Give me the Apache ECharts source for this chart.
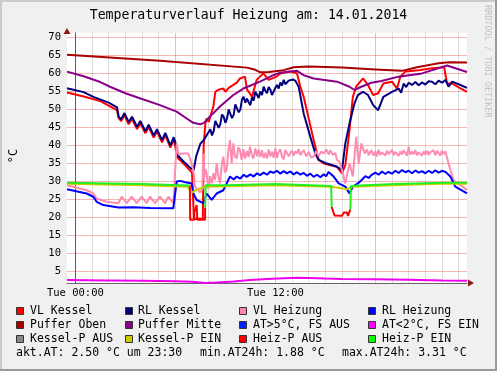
<!DOCTYPE html>
<html>
<head>
<meta charset="utf-8">
<script src="https://cdn.jsdelivr.net/npm/echarts@6/dist/echarts.min.js"></script>
<style>
html,body{margin:0;padding:0;background:#F0F0F0;}
#c{width:497px;height:371px;}
</style>
</head>
<body>
<div id="c"></div>
<script>
// ---- data (x = hours relative to Tue 00:00, y = °C) ----
const titleText = 'Temperaturverlauf Heizung am: 14.01.2014';
const yTickValues = [5,10,15,20,25,30,35,40,45,50,55,60,65,70];
const xLabelHours = [0, 12];
const hourGrid = [0,1,2,3,4,5,6,7,8,9,10,11,12,13,14,15,16,17,18,19,20,21,22,23];

const vlKessel = [[-0.5,54.7],[0.5,53.6],[1.5,52.3],[2.5,49.8],[2.6,47.6],[2.75,46.8],[2.95,48.4],[3.2,45.9],[3.4,47.4],[3.7,44.6],[3.9,46.2],[4.2,43.4],[4.4,45.1],[4.7,42.2],[4.9,43.9],[5.2,40.9],[5.4,42.9],[5.7,39.4],[5.9,41.7],[6.0,39.8],[6.1,36.8],[6.5,34.9],[6.8,33.5],[7.0,32.5],[7.12,19.6],[7.65,19.6],[7.7,40],[7.8,46],[7.88,47.5],[8.0,46.5],[8.28,50.8],[8.4,54.9],[8.6,55.5],[8.88,55.8],[9.0,54.9],[9.2,56.0],[9.48,56.8],[9.7,57.5],[9.88,58.6],[10.18,59.1],[10.3,55.5],[10.4,54.9],[10.6,53.5],[10.88,58.2],[11.28,60.0],[11.6,58.2],[12.08,59.1],[12.29,60.0],[12.9,60.5],[13.3,60.0],[13.5,56.3],[13.7,53.5],[14.3,41.5],[14.6,36.0],[14.9,35.0],[15.7,34.1],[16.0,32.3],[16.2,34.6],[16.45,44.3],[16.65,53.5],[16.85,56.3],[17.26,58.6],[17.56,56.8],[17.87,54.0],[18.17,54.5],[18.48,57.2],[19.0,57.7],[19.3,55.8],[19.5,59.1],[19.8,60.5],[20.6,60.9],[21.4,61.4],[22.13,61.7],[22.3,57.2],[22.6,57.2],[23.0,56.1],[23.5,54.9]];

const rlKessel = [[-0.5,55.9],[0.5,54.8],[1.08,53.5],[2.0,51.9],[2.5,50.6],[2.6,48.0],[2.75,47.3],[2.95,49.0],[3.2,46.5],[3.4,48.0],[3.7,45.2],[3.9,46.8],[4.2,44.0],[4.4,45.8],[4.7,42.8],[4.9,44.5],[5.2,41.5],[5.4,43.5],[5.7,40.0],[5.9,42.3],[6.0,41.0],[6.1,37.5],[6.5,35.5],[6.9,33.8],[7.1,33.2],[7.25,37],[7.5,40.5],[7.7,41.5],[7.9,43.0],[8.1,44.5],[8.2,42.8],[8.3,44.0],[8.4,46.8],[8.5,46.5],[8.6,44.9],[8.7,46.0],[8.8,48.6],[8.9,48.0],[9.0,46.3],[9.1,47.5],[9.2,50.0],[9.3,49.5],[9.4,47.6],[9.5,48.5],[9.6,51.4],[9.7,51],[9.8,49.2],[9.9,50],[10.0,52.8],[10.1,53.5],[10.2,51.9],[10.3,53],[10.4,52.0],[10.5,51.2],[10.6,53.3],[10.7,52.5],[10.8,54.9],[10.9,54.5],[11.0,53.2],[11.1,55.0],[11.2,54.0],[11.3,56.3],[11.4,55.2],[11.5,54.5],[11.6,56.2],[11.7,55.5],[11.8,54.0],[11.9,54.5],[12.0,56.0],[12.1,56.8],[12.2,55.8],[12.3,57.5],[12.4,56.6],[12.5,58.2],[12.6,57.0],[12.7,56.5],[12.8,58.0],[12.9,57.5],[13.05,58.3],[13.2,58.0],[13.4,56.3],[13.7,48.9],[14.1,42.4],[14.4,37.8],[14.6,36.0],[15.1,35.0],[15.7,34.1],[16.0,33.2],[16.2,40.6],[16.45,46.1],[16.75,51.7],[16.95,54.0],[17.26,54.9],[17.56,54.0],[17.87,51.2],[18.17,49.8],[18.48,53.5],[19.0,54.9],[19.4,55.8],[19.55,54.6],[19.7,57.2],[19.85,56.2],[20.0,57.4],[20.2,56.8],[20.4,57.6],[20.6,56.7],[20.8,57.5],[21.0,56.9],[21.2,57.8],[21.4,57.7],[21.6,57.0],[21.8,58.0],[22.0,57.4],[22.2,58.2],[22.4,56.3],[22.6,57.7],[23.0,57.0],[23.5,56.0]];

const vlHeizung = [[-0.5,29.0],[0.68,27.6],[1.08,26.7],[1.28,25.3],[1.88,24.4],[2.58,24.0],[2.78,25.8],[3.08,24.0],[3.38,25.8],[3.68,24.0],[3.98,25.8],[4.28,24.0],[4.48,25.8],[4.78,24.0],[5.08,25.8],[5.38,24.0],[5.58,25.8],[5.88,24.0],[6.0,24.2],[6.08,40.6],[6.2,37.5],[6.38,37.8],[6.78,37.8],[6.88,36.4],[7.08,33.2],[7.18,28.6],[7.48,27.0],[7.62,28],[7.68,37.8],[7.72,30.5],[7.8,33.5],[7.88,32.3],[7.98,28.0],[8.08,31.5],[8.18,29.5],[8.28,32.3],[8.38,30.5],[8.48,35.0],[8.58,31.5],[8.68,29.5],[8.78,34.5],[8.88,36.9],[8.98,32.5],[9.08,33.2],[9.18,38.5],[9.28,41.5],[9.38,35.0],[9.48,40.6],[9.58,37.0],[9.68,36.4],[9.78,39.5],[9.88,38.7],[9.98,36.0],[10.08,39.0],[10.18,36.4],[10.3,38.5],[10.4,36.8],[10.48,39.7],[10.58,37.5],[10.68,36.4],[10.8,39.2],[10.9,37.0],[11.0,38.9],[11.1,36.8],[11.2,38.7],[11.3,36.5],[11.4,38.0],[11.5,36.4],[11.6,38.9],[11.7,37.0],[11.8,38.3],[11.9,36.6],[12.0,39.2],[12.1,36.5],[12.2,38.2],[12.3,39.0],[12.4,36.9],[12.5,36.2],[12.6,38.8],[12.7,38.5],[12.8,37.0],[12.9,36.8],[13.0,38.6],[13.1,37.2],[13.2,38.4],[13.3,37.8],[13.4,39.0],[13.5,37.3],[13.6,38.1],[13.7,38.7],[13.85,37.0],[14.0,38.2],[14.15,36.7],[14.3,36.9],[14.45,38.4],[14.6,37.1],[14.75,38.3],[14.9,37.8],[15.05,38.9],[15.2,37.5],[15.3,38.7],[15.45,37.4],[15.6,37.9],[15.7,36.0],[15.85,35.5],[16.0,33.2],[16.2,29.5],[16.45,35.0],[16.65,31.4],[16.85,42.4],[17.0,35.0],[17.16,40.6],[17.36,37.8],[17.5,38.9],[17.6,37.3],[17.76,38.7],[17.9,37.2],[18.0,38.4],[18.1,37.0],[18.2,38.8],[18.3,37.4],[18.4,38.1],[18.5,38.5],[18.6,37.2],[18.7,38.6],[18.8,37.6],[18.9,37.4],[19.0,38.8],[19.1,37.3],[19.2,38.2],[19.3,38.6],[19.4,37.1],[19.5,38.4],[19.6,37.5],[19.7,38.7],[19.8,38.3],[19.9,37.2],[20.0,39.6],[20.1,37.4],[20.2,38.3],[20.3,37.6],[20.4,38.7],[20.5,37.3],[20.6,38.1],[20.7,38.5],[20.8,37.2],[20.9,38.4],[21.0,37.5],[21.1,38.6],[21.2,37.4],[21.3,38.2],[21.4,37.8],[21.5,38.7],[21.6,37.3],[21.7,38.5],[21.8,38.4],[21.9,37.2],[22.0,38.6],[22.1,37.6],[22.2,38.4],[22.3,38.0],[22.5,33.2],[22.7,30.4],[23.24,28.6],[23.5,27.6]];

const rlHeizung = [[-0.5,27.9],[0.68,26.7],[1.08,25.8],[1.28,24.4],[1.68,23.5],[2.58,22.8],[3.5,22.9],[4.5,22.7],[5.88,22.6],[6.0,22.8],[6.08,30.0],[6.3,30.2],[6.6,29.8],[6.98,29.5],[7.08,26.7],[7.28,24.9],[7.68,24.0],[7.88,26.7],[8.18,24.9],[8.48,26.7],[8.88,27.6],[9.28,31.4],[9.5,30.6],[9.68,31.4],[9.9,30.8],[10.1,31.9],[10.28,31.3],[10.5,32.0],[10.7,31.4],[10.9,32.3],[11.08,31.8],[11.3,32.5],[11.5,31.9],[11.7,32.8],[11.88,32.4],[12.1,33.0],[12.3,32.2],[12.5,32.9],[12.7,32.3],[12.9,32.8],[13.1,32.0],[13.3,32.6],[13.5,31.9],[13.7,32.4],[13.9,31.6],[14.1,32.2],[14.3,31.3],[14.5,31.9],[14.7,31.2],[14.9,32.0],[15.05,31.5],[15.2,32.7],[15.35,32.0],[15.5,31.4],[15.8,29.5],[16.2,28.6],[16.45,26.7],[16.65,28.6],[16.95,29.5],[17.2,30.5],[17.4,31.5],[17.6,31.0],[17.76,31.8],[18.0,32.5],[18.2,31.9],[18.4,32.8],[18.6,32.1],[18.78,32.7],[19.0,32.2],[19.2,33.0],[19.4,32.4],[19.6,33.2],[19.8,32.6],[20.0,33.0],[20.2,32.3],[20.4,33.1],[20.6,32.5],[20.8,32.9],[21.0,32.3],[21.2,33.0],[21.4,32.4],[21.6,33.1],[21.8,32.5],[22.0,33.0],[22.2,32.7],[22.5,31.4],[22.8,28.6],[23.24,27.4],[23.5,26.7]];

const pufferOben = [[-0.5,65.2],[5.08,63.5],[10.3,61.6],[10.8,61.0],[11.1,60.3],[11.6,60.4],[12.5,60.9],[13.1,61.7],[14,61.9],[16,61.6],[18,61.1],[19.6,60.7],[20.5,61.7],[21.8,62.8],[22.4,63.1],[23.5,63.0]];

const pufferMitte = [[-0.5,60.5],[0.5,59.2],[1.5,57.6],[2.08,56.3],[3,54.5],[4,52.9],[5.08,51.2],[6.08,49.4],[6.68,47.5],[7.08,46.3],[7.48,45.9],[7.7,46.2],[7.88,47.1],[8.68,50.8],[9.48,54.0],[10.08,55.8],[11.08,57.7],[11.88,59.5],[12.29,60.2],[13.3,60.7],[13.7,59.5],[14.3,58.6],[15.7,57.7],[16.45,56.3],[16.75,55.4],[17.16,56.3],[17.76,57.4],[18.37,57.9],[19.39,59.1],[20.8,60.0],[22.3,62.2],[23.5,60.4]];

const atGt5 = [];
const aussenTemp = [[-0.5,2.7],[2,2.6],[4,2.5],[6,2.35],[7,2.2],[7.8,1.9],[8.5,2.0],[9.5,2.3],[10.5,2.7],[11.5,3.0],[12.5,3.2],[13.3,3.31],[14,3.25],[15,3.1],[16,3.0],[18,2.9],[20,2.8],[22,2.6],[23.5,2.5]];

const kesselPAus = [];
const kesselPEin = [[-0.5,29.4],[4,29.0],[6.7,28.6],[6.83,28.0],[7.0,26.9],[7.15,27.4],[7.74,28.6],[12,29.0],[15.3,28.6],[15.8,28.3],[16.3,27.9],[16.6,28.6],[19,29.0],[22,29.4],[23.5,29.4]];

const heizPAus = [[6.87,28.9],[6.89,19.4],[7.13,19.4],[7.14,21.5],[7.2,21.5],[7.28,23.5],[7.32,19.4],[7.78,19.4],[7.79,22.8],[7.8,null],[15.38,23.0],[15.55,20.6],[16.0,20.5],[16.1,21.4],[16.3,21.4],[16.36,20.5],[16.47,20.5],[16.5,22.3]];
const heizPEin = [[-0.5,29.7],[2,29.5],[4.1,29.3],[6.73,28.9],[6.87,28.9],[6.9,null],[7.79,22.8],[7.82,29.0],[9,29.0],[12,29.3],[15.35,28.8],[15.38,23.0],[15.4,null],[16.5,22.3],[16.53,28.8],[17,28.9],[19.2,29.3],[22.2,29.7],[23.5,29.7]];

const legendRows = [
  [['VL Kessel','#FF0000'],['RL Kessel','#000080'],['VL Heizung','#FF88AA'],['RL Heizung','#0000FF']],
  [['Puffer Oben','#AA0000'],['Puffer Mitte','#880088'],['AT>5°C, FS AUS','#0022FF'],['AT<2°C, FS EIN','#FF00FF']],
  [['Kessel-P AUS','#888888'],['Kessel-P EIN','#CCCC00'],['Heiz-P AUS','#FF0000'],['Heiz-P EIN','#00FF00']]
];
const statTexts = ['akt.AT: 2.50 °C um 23:30', 'min.AT24h: 1.88 °C', 'max.AT24h: 3.31 °C'];

// ---- chart ----
const MONO = '"DejaVu Sans Mono", monospace';
const chart = echarts.init(document.getElementById('c'), null, {renderer: 'canvas'});

const majorCol = 'rgba(225,0,0,0.28)';
const minorCol = 'rgba(0,0,0,0.13)';
const gridLines = [];
yTickValues.forEach(v => gridLines.push({yAxis: v, lineStyle: {color: majorCol, width: 1, type: 'solid'}}));
hourGrid.forEach(h => gridLines.push({xAxis: h, lineStyle: {color: h % 6 === 0 ? majorCol : minorCol, width: 1, type: 'solid'}}));

function ln(name, data, color, extra) {
  return Object.assign({
    name: name, type: 'line', data: data, showSymbol: false, symbol: 'none',
    lineStyle: {color: color, width: 2}, itemStyle: {color: color},
    connectNulls: false, silent: true, z: 3, animation: false
  }, extra || {});
}

// legend graphics
const g = [];
const colX = [16, 125, 239, 368];
const textX = [30, 138, 253, 382];
const rowY = [311, 325, 339];
legendRows.forEach((row, r) => row.forEach((it, c) => {
  g.push({type: 'rect', shape: {x: colX[c] + 0.5, y: rowY[r] - 3.5, width: 7, height: 7},
    style: {fill: it[1], stroke: '#333', lineWidth: 1}, silent: true});
  g.push({type: 'text', x: textX[c], y: rowY[r],
    style: {text: it[0], font: '11.5px ' + MONO, fill: '#000', textVerticalAlign: 'middle', textAlign: 'left'}, silent: true});
}));
const statX = [16, 200, 342];
statTexts.forEach((t, i) => g.push({type: 'text', x: statX[i], y: 353,
  style: {text: t, font: '11.5px ' + MONO, fill: '#000', textVerticalAlign: 'middle', textAlign: 'left'}, silent: true}));
// title
g.push({type: 'text', x: 248.5, y: 16, style: {text: titleText, font: '13.2px ' + MONO, fill: '#000', textAlign: 'center', textVerticalAlign: 'middle'}, silent: true});
// watermark
g.push({type: 'text', x: 487, y: 5, rotation: -Math.PI / 2,
  style: {text: 'RRDTOOL / TOBI OETIKER', font: '8.5px ' + MONO, fill: '#C2C2C2', textAlign: 'left', textVerticalAlign: 'middle'}, silent: true});
// y unit
g.push({type: 'text', x: 13.5, y: 156, rotation: Math.PI / 2,
  style: {text: '°C', font: '12px ' + MONO, fill: '#000', textAlign: 'center', textVerticalAlign: 'middle'}, silent: true});
// frame
g.push({type: 'rect', shape: {x: 0, y: 0, width: 497, height: 2}, style: {fill: '#CBCBCB'}, silent: true});
g.push({type: 'rect', shape: {x: 0, y: 0, width: 2, height: 371}, style: {fill: '#CBCBCB'}, silent: true});
g.push({type: 'rect', shape: {x: 495, y: 0, width: 2, height: 371}, style: {fill: '#9A9A9A'}, silent: true});
g.push({type: 'rect', shape: {x: 0, y: 369, width: 497, height: 2}, style: {fill: '#9A9A9A'}, silent: true});
// axis arrows
g.push({type: 'polygon', shape: {points: [[63.5, 34], [70.5, 34], [67, 28]]}, style: {fill: '#8B1A1A'}, silent: true, z: 10});
g.push({type: 'polygon', shape: {points: [[468, 279.5], [468, 286.5], [474, 283]]}, style: {fill: '#8B1A1A'}, silent: true, z: 10});

const option = {
  animation: false,
  backgroundColor: '#F0F0F0',
  grid: {left: 67, top: 33, width: 400, height: 250, show: true, backgroundColor: '#FFFFFF', borderWidth: 0, containLabel: false},
  xAxis: {
    type: 'value', min: -0.5, max: 23.5,
    axisLine: {show: true, onZero: false, lineStyle: {color: '#666', width: 1}},
    axisTick: {show: false},
    splitLine: {show: false},
    axisLabel: {customValues: xLabelHours, margin: 5, color: '#000', fontFamily: MONO, fontSize: 10.5,
      formatter: v => 'Tue ' + (v < 10 ? '0' : '') + v + ':00'}
  },
  yAxis: {
    type: 'value', min: 1.88, max: 71.2,
    axisLine: {show: true, lineStyle: {color: '#666', width: 1}},
    axisTick: {show: false},
    splitLine: {show: false},
    axisLabel: {customValues: yTickValues, margin: 6, color: '#000', fontFamily: MONO, fontSize: 10.5}
  },
  series: [
    ln('VL Kessel', vlKessel, '#FF0000', {markLine: {silent: true, z: 1, symbol: ['none', 'none'], label: {show: false}, emphasis: {disabled: true}, animation: false, data: gridLines}}),
    ln('RL Kessel', rlKessel, '#000080'),
    ln('VL Heizung', vlHeizung, '#FF8CB0'),
    ln('RL Heizung', rlHeizung, '#0000FF'),
    ln('Puffer Oben', pufferOben, '#AA0000'),
    ln('Puffer Mitte', pufferMitte, '#880088'),
    ln('AT>5°C, FS AUS', atGt5, '#0022FF'),
    ln('AT<2°C, FS EIN', aussenTemp, '#EE00EE'),
    ln('Kessel-P AUS', kesselPAus, '#888888'),
    ln('Kessel-P EIN', kesselPEin, '#CCCC00'),
    ln('Heiz-P AUS', heizPAus, '#FF0000'),
    ln('Heiz-P EIN', heizPEin, '#22EE22')
  ],
  graphic: g
};
chart.setOption(option);
</script>
</body>
</html>
